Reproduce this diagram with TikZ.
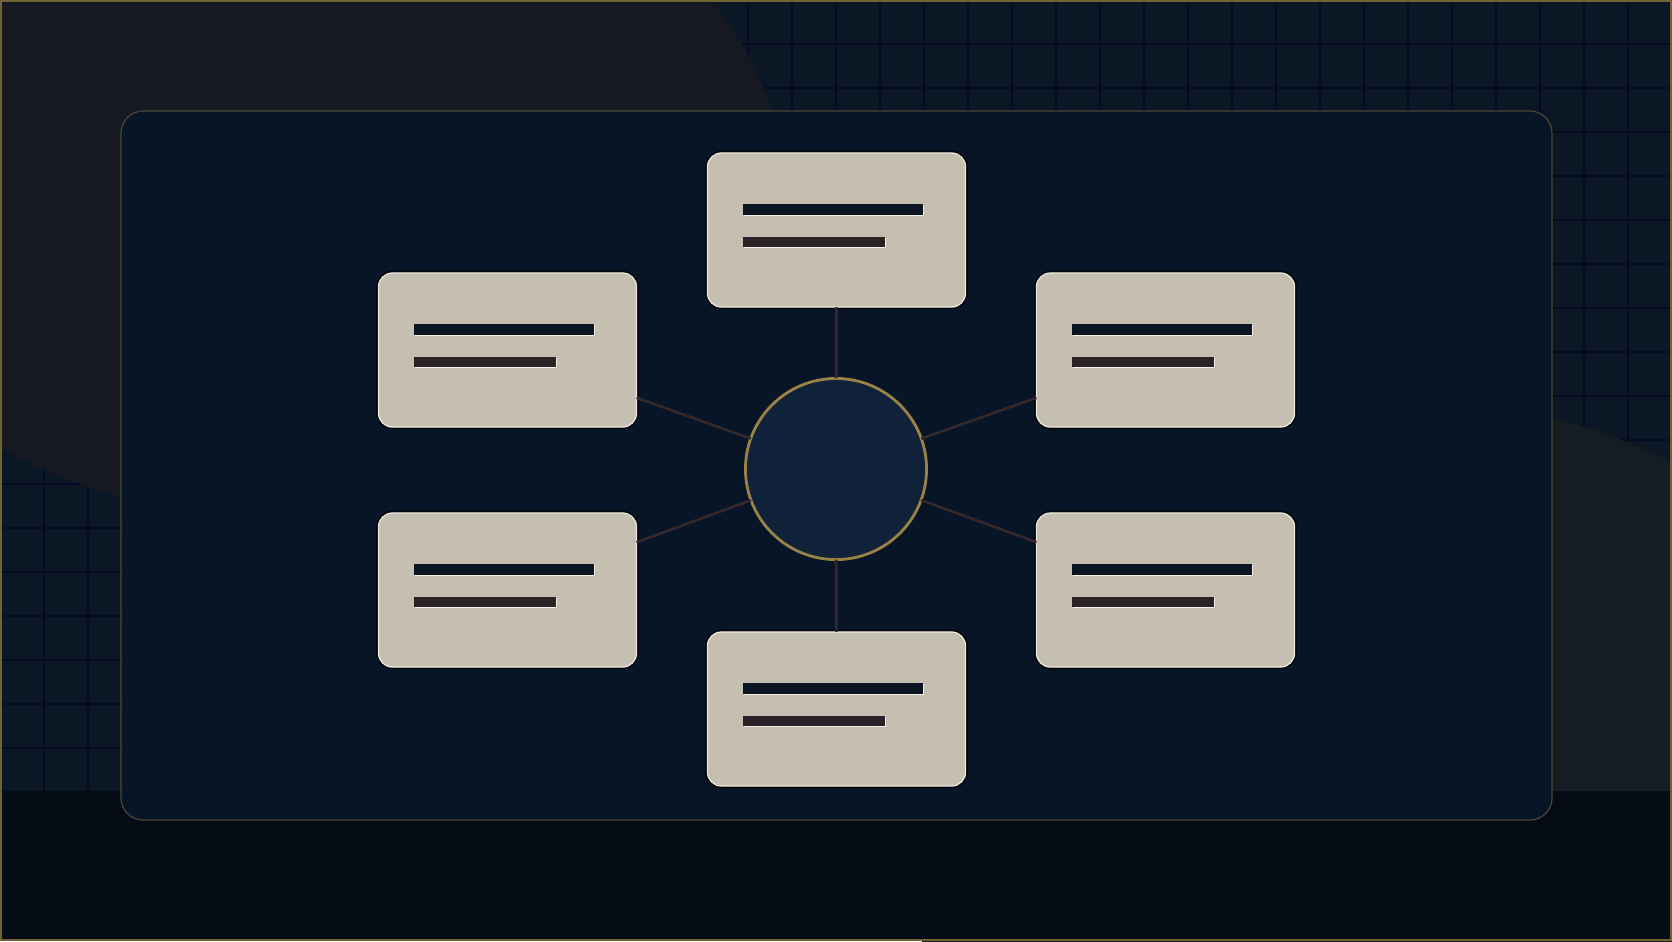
\documentclass[tikz,border=0pt]{standalone}
\usetikzlibrary{calc}
\definecolor{bandc}{HTML}{060C16}
\definecolor{cellc}{HTML}{0B1725}
\definecolor{gridc}{HTML}{060A24}
\definecolor{blobA}{HTML}{161922}
\definecolor{blobB}{HTML}{161C23}
\definecolor{panelc}{HTML}{081526}
\definecolor{paneledge}{HTML}{4A4636}
\definecolor{cardfill}{HTML}{C4BFB1}
\definecolor{cardedge}{HTML}{EEEADE}
\definecolor{cardshadow}{HTML}{02050B}
\definecolor{barone}{HTML}{0B1622}
\definecolor{bartwo}{HTML}{2A2226}
\definecolor{barhl}{HTML}{F4F0E6}
\definecolor{hubfill}{HTML}{0F2239}
\definecolor{hubedge}{HTML}{9A8247}
\definecolor{connc}{HTML}{33282B}
\definecolor{framec}{HTML}{6E6533}
\newcommand\cardbars[1]{%
  \begin{scope}[shift={(#1.north west)}]
    \fill[barhl] (37,52) rectangle ++(180,11);
    \fill[barone] (36,51) rectangle ++(180,11);
    \fill[barhl] (37,85) rectangle ++(142,10.5);
    \fill[bartwo] (36,84) rectangle ++(142,10.5);
  \end{scope}}
\begin{document}
\begin{tikzpicture}[x=0.01cm,y=-0.01cm,
  gridline/.style={draw=gridc,line width=0.8pt},
  card/.style={rectangle,rounded corners=0.14cm,minimum width=2.58cm,minimum height=1.54cm,
    inner sep=0pt,outer sep=0pt,fill=cardfill,draw=cardedge,line width=0.35pt,
    preaction={draw=cardshadow,line width=1.3pt}},
  hub/.style={circle,minimum size=1.81cm,inner sep=0pt,outer sep=0pt,fill=hubfill,draw=hubedge,line width=0.8pt},
  conn/.style={draw=connc,line width=0.75pt}]
\clip (0,0) rectangle (1672,941);
% background
\fill[bandc] (0,0) rectangle (1672,941);
\fill[cellc] (0,0) rectangle (1672,791);
\foreach \i in {1,...,37} \draw[gridline] (44*\i,0) -- (44*\i,791);
\foreach \j in {1,...,17} \draw[gridline] (0,44*\j) -- (1672,44*\j);
\fill[blobA] (297,178) ellipse [x radius=4.83cm, y radius=3.42cm];
\fill[blobB] (1375,763) ellipse [x radius=5.18cm, y radius=3.67cm];
\fill[bandc] (0,791) rectangle (1672,941);
% panel
\draw[fill=panelc,draw=paneledge,line width=0.35pt,rounded corners=0.22cm] (121,111) rectangle (1552,820);
% nodes
\node[hub] (c) at (836,469) {};
\node[card] (t) at (836.5,230) {};
\node[card] (tl) at (507.5,350) {};
\node[card] (tr) at (1165.5,350) {};
\node[card] (bl) at (507.5,590) {};
\node[card] (br) at (1165.5,590) {};
\node[card] (b) at (836.5,709) {};
\coordinate (tlp) at ($(tl.south east)!0.19!(tl.north east)$);
\coordinate (trp) at ($(tr.south west)!0.19!(tr.north west)$);
\coordinate (blp) at ($(bl.north east)!0.19!(bl.south east)$);
\coordinate (brp) at ($(br.north west)!0.19!(br.south west)$);
% connectors
\draw[conn] (c) -- (t);
\draw[conn] (c) -- (b);
\draw[conn] (c) -- (tlp);
\draw[conn] (c) -- (trp);
\draw[conn] (c) -- (blp);
\draw[conn] (c) -- (brp);
\cardbars{t}
\cardbars{tl}
\cardbars{tr}
\cardbars{bl}
\cardbars{br}
\cardbars{b}
% frame
\draw[framec,line width=0.6pt] (1,1) rectangle (1671,940);
\end{tikzpicture}
\end{document}
